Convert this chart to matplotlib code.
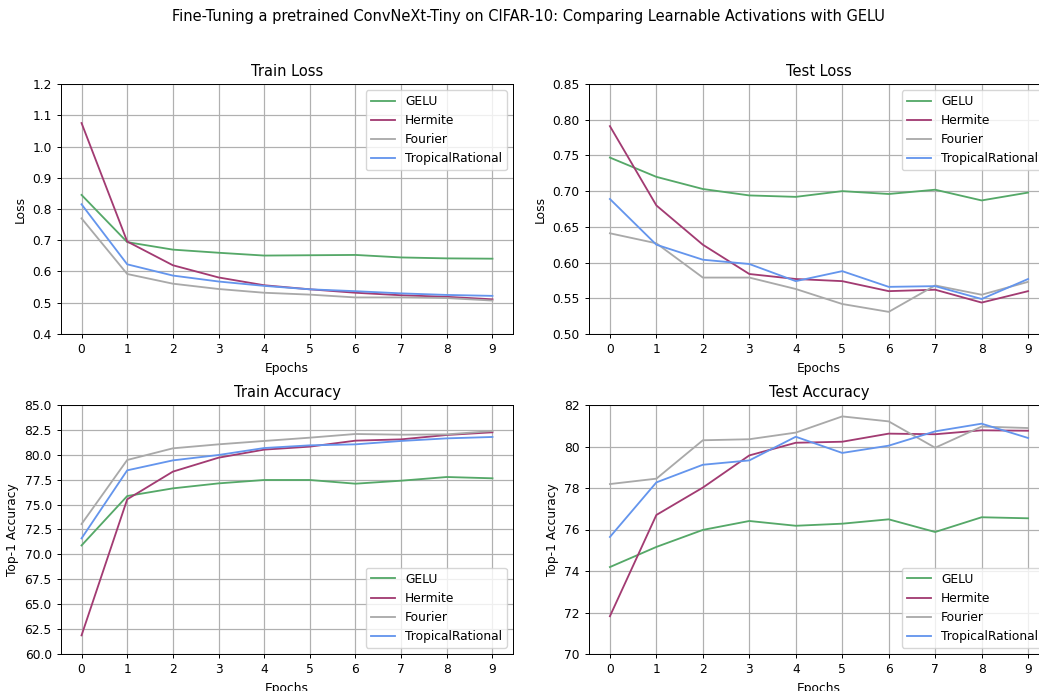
import matplotlib
matplotlib.use("Agg")
from matplotlib import pyplot as plt

epochs = list(range(10))
methods = ["GELU", "Hermite", "Fourier", "TropicalRational"]
colors = ["#55a868", "#a23b72", "#a9a9a9", "#6495ed"]

train_loss = {
    "GELU": [0.845, 0.694, 0.670, 0.660, 0.651, 0.652, 0.653, 0.645, 0.642, 0.641],
    "Hermite": [1.075, 0.696, 0.620, 0.581, 0.556, 0.543, 0.532, 0.524, 0.519, 0.511],
    "Fourier": [0.770, 0.592, 0.561, 0.544, 0.532, 0.526, 0.517, 0.517, 0.515, 0.507],
    "TropicalRational": [0.815, 0.623, 0.587, 0.568, 0.554, 0.543, 0.537, 0.530, 0.525, 0.522],
}
test_loss = {
    "GELU": [0.747, 0.720, 0.703, 0.694, 0.692, 0.700, 0.696, 0.702, 0.687, 0.698],
    "Hermite": [0.791, 0.680, 0.625, 0.584, 0.577, 0.574, 0.560, 0.562, 0.544, 0.560],
    "Fourier": [0.641, 0.627, 0.579, 0.579, 0.563, 0.542, 0.531, 0.568, 0.555, 0.573],
    "TropicalRational": [0.689, 0.625, 0.604, 0.598, 0.574, 0.588, 0.566, 0.567, 0.549, 0.577],
}
train_acc = {
    "GELU": [70.90, 75.86, 76.63, 77.13, 77.47, 77.47, 77.10, 77.40, 77.77, 77.64],
    "Hermite": [61.87, 75.53, 78.31, 79.71, 80.52, 80.82, 81.42, 81.55, 81.99, 82.26],
    "Fourier": [73.05, 79.48, 80.65, 81.05, 81.39, 81.72, 82.09, 82.02, 82.05, 82.39],
    "TropicalRational": [71.61, 78.44, 79.44, 79.98, 80.68, 80.95, 81.05, 81.39, 81.65, 81.79],
}
test_acc = {
    "GELU": [74.19, 75.16, 75.98, 76.41, 76.18, 76.28, 76.49, 75.88, 76.59, 76.54],
    "Hermite": [71.82, 76.70, 78.02, 79.57, 80.18, 80.23, 80.62, 80.59, 80.78, 80.76],
    "Fourier": [78.19, 78.45, 80.30, 80.35, 80.67, 81.45, 81.21, 79.94, 80.96, 80.89],
    "TropicalRational": [75.64, 78.27, 79.12, 79.33, 80.47, 79.69, 80.04, 80.73, 81.10, 80.41],
}

# the reference looks like a downscaled render, so everything is ~0.88x default
s = 0.88
plt.rcParams.update({
    "font.size": 10 * s,
    "axes.linewidth": 0.8 * s,
    "xtick.major.width": 0.8 * s,
    "ytick.major.width": 0.8 * s,
    "xtick.major.size": 3.5 * s,
    "ytick.major.size": 3.5 * s,
})

W, H = 1039, 691
fig = plt.figure(figsize=(W / 100, H / 100), dpi=100)


def make_axes(left, top, right, bottom):
    return fig.add_axes([left / W, 1 - bottom / H, (right - left) / W, (bottom - top) / H])


panels = [
    (make_axes(61, 84, 513, 334), train_loss, "Train Loss", "Loss", (0.4, 1.2), [0.4 + 0.1 * i for i in range(9)], "%.1f", "upper right"),
    (make_axes(589, 84, 1049, 334), test_loss, "Test Loss", "Loss", (0.5, 0.85), [0.5 + 0.05 * i for i in range(8)], "%.2f", "upper right"),
    (make_axes(61, 405, 513, 654), train_acc, "Train Accuracy", "Top-1 Accuracy", (60, 85), [60 + 2.5 * i for i in range(11)], "%.1f", "lower right"),
    (make_axes(589, 405, 1049, 654), test_acc, "Test Accuracy", "Top-1 Accuracy", (70, 82), [70 + 2 * i for i in range(7)], "%d", "lower right"),
]

for ax, data, title, ylabel, ylim, yticks, fmt, loc in panels:
    for name, c in zip(methods, colors):
        ax.plot(epochs, data[name], color=c, linewidth=1.5 * s, label=name)
    ax.set_title(title, fontsize=12 * s)
    ax.set_xlabel("Epochs")
    ax.set_ylabel(ylabel)
    ax.set_ylim(*ylim)
    ax.set_yticks(yticks)
    ax.set_yticklabels([fmt % v for v in yticks])
    ax.set_xticks(epochs)
    ax.set_xlim(-0.45, 9.45)
    ax.grid(True, color="#b0b0b0", linewidth=1.0 * s)
    ax.legend(loc=loc)

fig.text(528 / W, 1 - 16 / H, "Fine-Tuning a pretrained ConvNeXt-Tiny on CIFAR-10: Comparing Learnable Activations with GELU",
         ha="center", va="center", fontsize=12 * s)

fig.savefig("out.png", dpi=100)
